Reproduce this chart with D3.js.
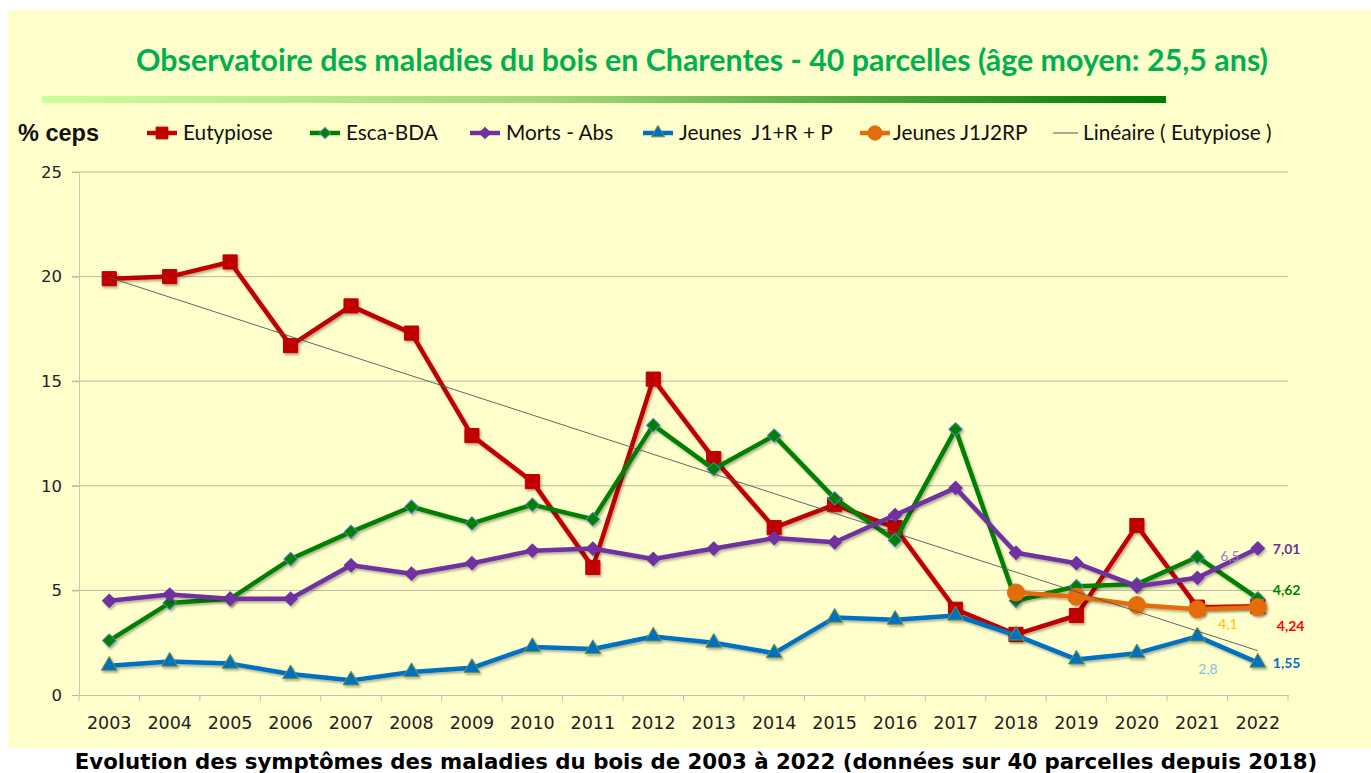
<!DOCTYPE html>
<html>
<head>
<meta charset="utf-8">
<script src="https://cdn.jsdelivr.net/npm/d3@7"></script>
<style>
  body { margin: 0; background: #fff; }
  svg { display: block; }
</style>
</head>
<body>
<svg id="chart" width="1371" height="773"></svg>
<script>
// years on the x axis
const years = ['2003','2004','2005','2006','2007','2008','2009','2010','2011','2012',
  '2013','2014','2015','2016','2017','2018','2019','2020','2021','2022'];

const eutypiose = [19.9, 20.0, 20.7, 16.7, 18.6, 17.3, 12.4, 10.2, 6.1, 15.1,
  11.3, 8.0, 9.1, 8.0, 4.1, 2.9, 3.8, 8.1, 4.2, 4.24];
const escaBda = [2.6, 4.4, 4.6, 6.5, 7.8, 9.0, 8.2, 9.1, 8.4, 12.9,
  10.8, 12.4, 9.4, 7.4, 12.7, 4.5, 5.2, 5.3, 6.6, 4.62];
const mortsAbs = [4.5, 4.8, 4.6, 4.6, 6.2, 5.8, 6.3, 6.9, 7.0, 6.5,
  7.0, 7.5, 7.3, 8.6, 9.9, 6.8, 6.3, 5.2, 5.6, 7.01];
const jeunesJ1RP = [1.4, 1.6, 1.5, 1.0, 0.7, 1.1, 1.3, 2.3, 2.2, 2.8,
  2.5, 2.0, 3.7, 3.6, 3.8, 2.85, 1.7, 2.0, 2.8, 1.55];
// only measured since 2018
const jeunesJ1J2RP = [null, null, null, null, null, null, null, null, null, null,
  null, null, null, null, null, 4.9, 4.7, 4.3, 4.1, 4.2];

const yTicks = [0, 5, 10, 15, 20, 25];

// value labels near the right end
const labelTexts = ['7,01', '4,62', '4,24', '1,55', '6,5', '4,1', '2,8'];
const labelYears = ['2022', '2022', '2022', '2022', '2021', '2021', '2021'];
const labelValues = [7.01, 4.62, 4.24, 1.55, 6.5, 4.1, 2.8];

const svg = d3.select('#chart');
const W = 1371, H = 773;
const plot = { left: 79, right: 1288, top: 172, bottom: 695 };

const x = d3.scaleBand().domain(years).range([plot.left, plot.right]);
const y = d3.scaleLinear().domain([0, 25]).range([plot.bottom, plot.top]);
const cx = d => x(d) + x.bandwidth() / 2;

const defs = svg.append('defs');
const grad = defs.append('linearGradient').attr('id', 'bar');
grad.append('stop').attr('offset', '0%').attr('stop-color', '#ccff99');
grad.append('stop').attr('offset', '45%').attr('stop-color', '#a6d87a');
grad.append('stop').attr('offset', '100%').attr('stop-color', '#007a00');
const sh = defs.append('filter').attr('id', 'shadow')
  .attr('x', '-20%').attr('y', '-20%').attr('width', '140%').attr('height', '140%');
sh.append('feDropShadow').attr('dx', 1.5).attr('dy', 2).attr('stdDeviation', 1.2)
  .attr('flood-color', '#000').attr('flood-opacity', 0.3);

// background panel
svg.append('rect').attr('x', 8).attr('y', 10).attr('width', W - 8).attr('height', 738)
  .attr('fill', '#ffffcc');

// fit a text to a width by tweaking its font size
function fit(sel, target) {
  const fs = parseFloat(sel.attr('font-size'));
  const len = sel.node().getComputedTextLength();
  sel.attr('font-size', (fs * target / len).toFixed(2));
}

const title = svg.append('text')
  .attr('x', 702).attr('y', 71).attr('text-anchor', 'middle')
  .attr('font-family', 'Lato, "Open Sans", sans-serif').attr('font-weight', 'bold')
  .attr('font-size', 28).attr('fill', '#00b050')
  .text('Observatoire des maladies du bois en Charentes - 40 parcelles (âge moyen: 25,5 ans)');
fit(title, 1132);

svg.append('rect').attr('x', 42).attr('y', 96).attr('width', 1124).attr('height', 7)
  .attr('fill', 'url(#bar)');

// grid
svg.append('g').selectAll('line').data(yTicks.slice(1)).enter().append('line')
  .attr('x1', plot.left - 7).attr('x2', plot.right)
  .attr('y1', d => y(d)).attr('y2', d => y(d))
  .attr('stroke', '#b8b8a4').attr('stroke-width', 1);

// y axis
const yAxis = svg.append('g').attr('transform', `translate(${plot.left},0)`)
  .call(d3.axisLeft(y).tickValues(yTicks).tickSize(7).tickPadding(10));
yAxis.select('.domain').attr('stroke', '#c8c8b4');
yAxis.selectAll('.tick line').attr('stroke', '#b8b8a4');
yAxis.selectAll('text').attr('font-family', '"DejaVu Sans", Verdana, sans-serif')
  .attr('font-size', 16.5).attr('fill', '#222');

// x axis with ticks between categories
const xAxis = svg.append('g').attr('transform', `translate(0,${plot.bottom})`)
  .call(d3.axisBottom(x).tickSize(0).tickPadding(22));
xAxis.select('.domain').attr('stroke', '#c0c0ac');
xAxis.selectAll('text').attr('font-family', '"DejaVu Sans", Verdana, sans-serif')
  .attr('font-size', 17.5).attr('fill', '#222');
svg.append('g').selectAll('line').data(years.concat(['end'])).enter().append('line')
  .attr('x1', (d, i) => i < years.length ? x(d) : x(years[years.length - 1]) + x.bandwidth())
  .attr('x2', (d, i) => i < years.length ? x(d) : x(years[years.length - 1]) + x.bandwidth())
  .attr('y1', plot.bottom).attr('y2', plot.bottom + 6)
  .attr('stroke', '#c0c0ac');

const series = [
  { name: 'Eutypiose', values: eutypiose, color: '#c00000', sym: d3.symbolSquare, size: 200, rot: 0, fill: '#c00000', edge: '#c00000', width: 4.5 },
  { name: 'Esca-BDA', values: escaBda, color: '#008000', sym: d3.symbolSquare, size: 90, rot: 45, fill: '#008000', edge: '#4f81bd', width: 4.5 },
  { name: 'Morts - Abs', values: mortsAbs, color: '#7030a0', sym: d3.symbolSquare, size: 90, rot: 45, fill: '#7030a0', edge: '#7030a0', width: 4.5 },
  { name: 'Jeunes  J1+R + P', values: jeunesJ1RP, color: '#0070c0', sym: d3.symbolTriangle, size: 110, rot: 0, fill: '#0070c0', edge: '#77933c', width: 4.5 },
  { name: 'Jeunes J1J2RP', values: jeunesJ1J2RP, color: '#e46c0a', sym: d3.symbolCircle, size: 230, rot: 0, fill: '#e46c0a', edge: '#e46c0a', width: 4.5 }
];

const line = d3.line().defined(d => d.v != null).x(d => cx(d.year)).y(d => y(d.v));

series.forEach(s => {
  const pts = years.map((yr, i) => ({ year: yr, v: s.values[i] }));
  const g = svg.append('g').attr('filter', 'url(#shadow)');
  g.append('path').datum(pts).attr('d', line)
    .attr('fill', 'none').attr('stroke', s.color).attr('stroke-width', s.width)
    .attr('stroke-linejoin', 'round');
  g.selectAll('path.m').data(pts.filter(d => d.v != null)).enter().append('path')
    .attr('class', 'm')
    .attr('d', d3.symbol().type(s.sym).size(s.size))
    .attr('transform', d => `translate(${cx(d.year)},${y(d.v)}) rotate(${s.rot})`)
    .attr('fill', s.fill).attr('stroke', s.edge).attr('stroke-width', 1);
});

// linear trend of Eutypiose
const idx = years.map((d, i) => i);
const mx = d3.mean(idx), my = d3.mean(eutypiose);
const slope = d3.sum(idx, i => (i - mx) * (eutypiose[i] - my)) / d3.sum(idx, i => (i - mx) ** 2);
const icpt = my - slope * mx;
svg.append('line')
  .attr('x1', cx(years[0])).attr('y1', y(icpt))
  .attr('x2', cx(years[years.length - 1])).attr('y2', y(icpt + slope * (years.length - 1)))
  .attr('stroke', '#555').attr('stroke-width', 0.9);

// value labels
const labelColors = ['#7030a0', '#008000', '#ff0000', '#0070c0', '#9f7fcc', '#ffc000', '#7cc2dc'];
const labelBold = [true, true, true, true, false, false, false];
const labelDx = [15, 15, 19, 15, 23, 21, 1];
const labelDy = [1, -8, 20, 1, -3, 15, 33];
svg.append('g').selectAll('text').data(labelTexts).enter().append('text')
  .attr('x', (d, i) => cx(labelYears[i]) + labelDx[i])
  .attr('y', (d, i) => y(labelValues[i]) + labelDy[i])
  .attr('dy', '0.35em')
  .attr('font-family', 'Lato, "Open Sans", sans-serif')
  .attr('font-weight', (d, i) => labelBold[i] ? 'bold' : 'normal')
  .attr('font-size', 14).attr('fill', (d, i) => labelColors[i])
  .text(d => d);

// legend
svg.append('text').attr('x', 18).attr('y', 141)
  .attr('font-family', '"Liberation Sans", Arial, sans-serif').attr('font-weight', 'bold')
  .attr('font-size', 23.5).attr('fill', '#111').text('% ceps');

const legendX = [147, 310, 470, 643, 860];
const legendTextX = [183, 346, 506, 679, 893];
series.forEach((s, i) => {
  const g = svg.append('g').attr('transform', `translate(${legendX[i]},133)`);
  g.append('line').attr('x1', 0).attr('x2', 30).attr('stroke', s.color).attr('stroke-width', 4.5);
  g.append('path').attr('d', d3.symbol().type(s.sym).size(s.size * 0.7))
    .attr('transform', `translate(15,0) rotate(${s.rot})`)
    .attr('fill', s.fill).attr('stroke', s.edge).attr('stroke-width', 1);
  svg.append('text').attr('x', legendTextX[i]).attr('y', 140)
    .attr('font-family', 'Lato, "Open Sans", sans-serif')
    .attr('font-size', 20.8).attr('fill', '#111').attr('xml:space', 'preserve')
    .style('white-space', 'pre').text(s.name);
});
svg.append('line').attr('x1', 1053).attr('x2', 1078).attr('y1', 133).attr('y2', 133)
  .attr('stroke', '#555').attr('stroke-width', 1);
svg.append('text').attr('x', 1083).attr('y', 140)
  .attr('font-family', 'Lato, "Open Sans", sans-serif')
  .attr('font-size', 20.8).attr('fill', '#111').text('Linéaire ( Eutypiose )');

// caption under the panel
const cap = svg.append('text').attr('x', 696).attr('y', 769).attr('text-anchor', 'middle')
  .attr('font-family', '"DejaVu Sans", Verdana, sans-serif').attr('font-weight', 'bold')
  .attr('font-size', 17).attr('fill', '#000')
  .text('Evolution des symptômes des maladies du bois de 2003 à 2022 (données sur 40 parcelles depuis 2018)');
fit(cap, 1243);
</script>
</body>
</html>
